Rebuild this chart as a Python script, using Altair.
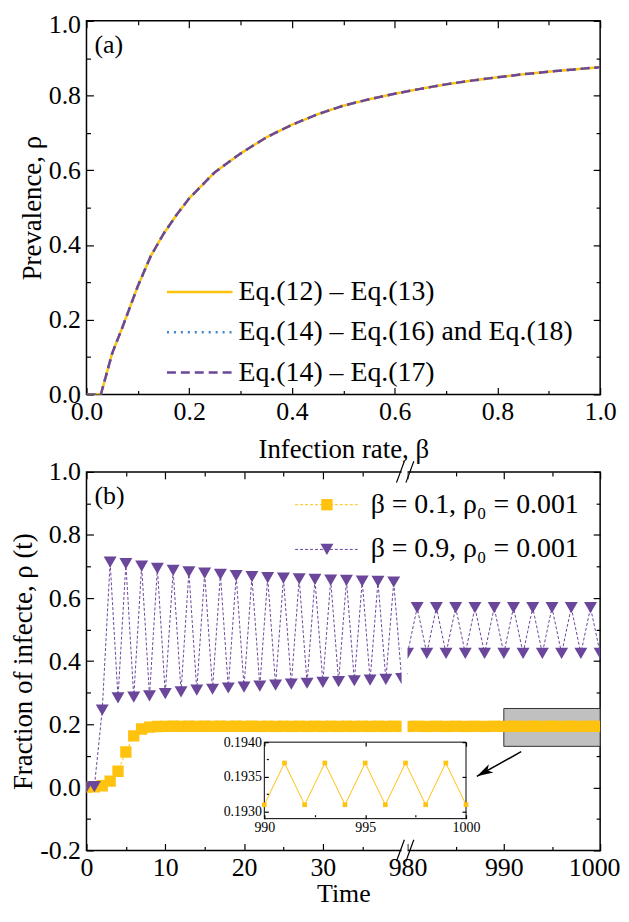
import altair as alt
import pandas as pd

FONT = "Liberation Serif"
YELLOW = "#FFC20E"
BLUE = "#3D85C6"
PURPLE = "#6B479B"

# ---------------- Panel (a) data ----------------
beta = [0.0, 0.02, 0.028, 0.04, 0.05, 0.07, 0.10, 0.125, 0.15, 0.175, 0.20, 0.25,
        0.30, 0.35, 0.40, 0.45, 0.50, 0.55, 0.60, 0.65, 0.70, 0.75, 0.80, 0.85,
        0.90, 0.95, 1.00]
rho = [0.0, 0.0, 0.0, 0.06, 0.11, 0.18, 0.29, 0.37, 0.43, 0.48, 0.525, 0.595,
       0.645, 0.688, 0.722, 0.75, 0.773, 0.79, 0.805, 0.818, 0.83, 0.84, 0.849,
       0.857, 0.864, 0.87, 0.876]
series_a = ["Eq.(12) \u2013 Eq.(13)", "Eq.(14) \u2013 Eq.(16) and Eq.(18)", "Eq.(14) \u2013 Eq.(17)"]
colors_a = [YELLOW, BLUE, PURPLE]
dashes_a = [[1, 0], [2, 5], [9, 5]]
a_major = [0.0, 0.2, 0.4, 0.6, 0.8, 1.0]
a_minor = [0.1, 0.3, 0.5, 0.7, 0.9]

# ---------------- Panel (b) data ----------------
time_left = list(range(0, 41))
rho_b01_left = [0.001, 0.002, 0.005, 0.020, 0.051, 0.112, 0.163, 0.185, 0.191, 0.193,
                0.1931, 0.1937, 0.1931, 0.1937, 0.1931, 0.1937, 0.1931, 0.1937, 0.1931, 0.1937,
                0.1931, 0.1937, 0.1931, 0.1937, 0.1931, 0.1937, 0.1931, 0.1937, 0.1931, 0.1937,
                0.1931, 0.1937, 0.1931, 0.1937, 0.1931, 0.1937, 0.1931, 0.1937, 0.1931, 0.1937,
                0.1931]
rho_b09_left = [0.001, 0.002, 0.245, 0.714, 0.284, 0.709, 0.286, 0.701, 0.290, 0.694,
                0.297, 0.688, 0.303, 0.683, 0.308, 0.679, 0.311, 0.675, 0.315, 0.671,
                0.318, 0.668, 0.321, 0.665, 0.324, 0.663, 0.327, 0.661, 0.330, 0.659,
                0.333, 0.657, 0.335, 0.656, 0.338, 0.654, 0.340, 0.653, 0.342, 0.651,
                0.345]
time_right = list(range(980, 1001))
rho_b01_right = [0.1931, 0.1937, 0.1931, 0.1937, 0.1931, 0.1937, 0.1931, 0.1937, 0.1931, 0.1937,
                 0.1931, 0.1937, 0.1931, 0.1937, 0.1931, 0.1937, 0.1931, 0.1937, 0.1931, 0.1937,
                 0.1931]
rho_b09_right = [0.425, 0.570, 0.425, 0.570, 0.425, 0.570, 0.425, 0.570, 0.425, 0.570,
                 0.425, 0.570, 0.425, 0.570, 0.425, 0.570, 0.425, 0.570, 0.425, 0.570,
                 0.425]
series_b = ["\u03b2 = 0.1, \u03c1\u2080 = 0.001", "\u03b2 = 0.9, \u03c1\u2080 = 0.001"]
b_x_major_left = [0, 10, 20, 30]
b_x_major_right = [980, 990, 1000]
b_x_minor_left = [5, 15, 25, 35]
b_x_minor_right = [985, 995]
b_y_major = [-0.2, 0.0, 0.2, 0.4, 0.6, 0.8, 1.0]
b_y_minor = [-0.1, 0.1, 0.3, 0.5, 0.7, 0.9]
zoom_box_time = [990, 1000]
zoom_box_rho = [0.13, 0.25]
arrow_time = [991.8, 987.2]
arrow_rho = [0.113, 0.035]

# inset
inset_time = time_right[10:]
inset_rho = rho_b01_right[10:]
inset_x_major = [990, 995, 1000]
inset_x_minor = [992.5, 997.5]
inset_y_major = [0.1930, 0.1935, 0.1940]
inset_y_minor = [0.19325, 0.19375]

# ---------------- geometry ----------------
W = 517
HA = 376
HB = 381
MAJ = 7
MIN = 4
TICKFS = 26
TITLEFS = 27

# broken time axis
T0, T1 = 40, 980
GAP = 0.75
K = 1.2225


def to_u(t):
    return t if t <= T0 else T0 + GAP + (t - T1) * K


U_MAX = to_u(1000)
U_EXPR = f"datum.t <= {T0} ? datum.t : {T0 + GAP} + (datum.t - {T1}) * {K}"
U2_EXPR = f"datum.t2 <= {T0} ? datum.t2 : {T0 + GAP} + (datum.t2 - {T1}) * {K}"


def axis(orient, values, size, extra=0, **kw):
    base = dict(orient=orient, values=values, tickSize=size, offset=-size - extra,
                domain=False, grid=False, ticks=True, labelFlush=False,
                labelOverlap=False, tickColor="black", tickWidth=1.2,
                labelFont=FONT, labelColor="black", titleFont=FONT,
                titleColor="black", titleFontWeight="normal")
    base.update(kw)
    return alt.Axis(**base)


def noaxis(orient, values, size, extra=0, zindex=0):
    return axis(orient, values, size, extra, labels=False, zindex=zindex)


# ================= Panel (a) =================
rows = []
for s in series_a:
    for b_, r_ in zip(beta, rho):
        rows.append({"beta": b_, "rho": r_, "series": s})
df_a = pd.DataFrame(rows)

xa = alt.Scale(domain=[0, 1], nice=False, zero=False)
ya = alt.Scale(domain=[0, 1], nice=False, zero=False)

leg_a = alt.Legend(title=None, orient="none", legendX=100, legendY=259,
                   symbolType="M-3,0H3", symbolSize=484, symbolStrokeWidth=2.5,
                   labelFont=FONT, labelFontSize=28, labelColor="black",
                   labelOffset=25, rowPadding=12.5, padding=0, labelLimit=500)

a_lines = alt.Chart(df_a).mark_line(strokeWidth=2.5, clip=True).encode(
    x=alt.X("beta:Q", scale=xa,
            axis=axis("bottom", a_major, MAJ, format=".1f", labelPadding=4,
                      labelFontSize=TICKFS, title="Infection rate, \u03b2",
                      titleFontSize=TITLEFS, titlePadding=12)),
    y=alt.Y("rho:Q", scale=ya,
            axis=axis("left", a_major, MAJ, format=".1f", labelPadding=6,
                      labelFontSize=TICKFS,
                      labelOffset={"condition": {"test": "datum.value > 0.99", "value": 4},
                                   "value": 0},
                      title="Prevalence, \u03c1",
                      titleFontSize=TITLEFS, titlePadding=2)),
    color=alt.Color("series:N", scale=alt.Scale(domain=series_a, range=colors_a), legend=leg_a),
    strokeDash=alt.StrokeDash("series:N", scale=alt.Scale(domain=series_a, range=dashes_a),
                              legend=leg_a),
    order=alt.Order("beta:Q"),
)

a_ghost1 = alt.Chart(df_a).mark_point(opacity=0).encode(
    x=alt.X("beta:Q", scale=xa, axis=noaxis("bottom", a_minor, MIN), title=None),
    y=alt.Y("rho:Q", scale=ya, axis=noaxis("left", a_minor, MIN), title=None),
)
a_ghost2 = alt.Chart(df_a).mark_point(opacity=0).encode(
    x=alt.X("beta:Q", scale=xa, axis=noaxis("top", a_major, MAJ), title=None),
    y=alt.Y("rho:Q", scale=ya, axis=noaxis("right", a_major, MAJ), title=None),
)
a_ghost3 = alt.Chart(df_a).mark_point(opacity=0).encode(
    x=alt.X("beta:Q", scale=xa, axis=noaxis("top", a_minor, MIN), title=None),
    y=alt.Y("rho:Q", scale=ya, axis=noaxis("right", a_minor, MIN), title=None),
)
a_label = alt.Chart(pd.DataFrame({"lab": ["(a)"]})).mark_text(
    font=FONT, fontSize=26, align="left", baseline="middle", color="black"
).encode(x=alt.value(8), y=alt.value(24), text="lab:N")

panel_a = alt.layer(a_ghost1, a_ghost2, a_ghost3, a_lines, a_label).resolve_axis(
    x="independent", y="independent"
).properties(width=W, height=HA)

# ================= Panel (b) =================
df_y = pd.DataFrame({"t": time_left + time_right, "rho": rho_b01_left + rho_b01_right,
                     "seg": ["L"] * len(time_left) + ["R"] * len(time_right)})
df_p = pd.DataFrame({"t": time_left + time_right, "rho": rho_b09_left + rho_b09_right,
                     "seg": ["L"] * len(time_left) + ["R"] * len(time_right)})

xb = alt.Scale(domain=[0, U_MAX], nice=False, zero=False)
yb = alt.Scale(domain=[-0.2, 1.0], nice=False, zero=False)

bx_major = [to_u(v) for v in b_x_major_left + b_x_major_right]
bx_minor = [to_u(v) for v in b_x_minor_left + b_x_minor_right]
X_LABEL = (f"datum.value <= {T0 + 0.1} ? format(datum.value, 'd') : "
           f"format({T1} + (datum.value - {T0 + GAP}) / {K}, '.0f')")
Y_LABEL = "replace(format(datum.value, '.1f'), '\u2212', '-')"

# zoom box
df_box = pd.DataFrame({"t": [zoom_box_time[0]], "t2": [zoom_box_time[1]],
                       "rho": [zoom_box_rho[0]], "rho2": [zoom_box_rho[1]]})
b_box = alt.Chart(df_box).transform_calculate(u=U_EXPR, u2=U2_EXPR).mark_rect(
    fill="#C0C0C0", stroke="#333333", strokeWidth=1).encode(
    x=alt.X("u:Q", scale=xb, axis=None), x2="u2:Q",
    y=alt.Y("rho:Q", scale=yb, axis=None), y2="rho2:Q")

b_yline = alt.Chart(df_y).transform_calculate(u=U_EXPR).mark_line(
    color=YELLOW, strokeWidth=1, strokeDash=[3, 2], clip=True).encode(
    x=alt.X("u:Q", scale=xb,
            axis=axis("bottom", bx_major, MAJ, labelExpr=X_LABEL, labelPadding=4,
                      labelFontSize=TICKFS,
                      labelOffset={"condition": {"test": f"datum.value > {U_MAX - 1}",
                                                 "value": -6}, "value": 0},
                      title="Time", titleFontSize=26, titlePadding=0)),
    y=alt.Y("rho:Q", scale=yb,
            axis=axis("left", b_y_major, MAJ, labelExpr=Y_LABEL, labelPadding=6,
                      labelFontSize=TICKFS,
                      title="Fraction of infecte, \u03c1 (t)", titleFontSize=TITLEFS,
                      titlePadding=2)),
    detail="seg:N", order="t:Q")

b_ypts = alt.Chart(df_y).transform_calculate(u=U_EXPR).mark_point(
    shape="square", filled=True, size=130, color=YELLOW, opacity=1, clip=True).encode(
    x=alt.X("u:Q", scale=xb, axis=noaxis("bottom", bx_minor, MIN), title=None),
    y=alt.Y("rho:Q", scale=yb, axis=noaxis("left", b_y_minor, MIN), title=None))

b_pline = alt.Chart(df_p).transform_calculate(u=U_EXPR).mark_line(
    color=PURPLE, strokeWidth=1, strokeDash=[3, 2], clip=True).encode(
    x=alt.X("u:Q", scale=xb, axis=noaxis("top", bx_major, MAJ), title=None),
    y=alt.Y("rho:Q", scale=yb, axis=noaxis("right", b_y_major, MAJ), title=None),
    detail="seg:N", order="t:Q")

b_ppts = alt.Chart(df_p).transform_calculate(u=U_EXPR).mark_point(
    shape="triangle-down", filled=True, size=170, color=PURPLE, opacity=1, clip=True).encode(
    x=alt.X("u:Q", scale=xb, axis=noaxis("top", bx_minor, MIN), title=None),
    y=alt.Y("rho:Q", scale=yb, axis=noaxis("right", b_y_minor, MIN), title=None))

# axis break: white mask and "//" marks
df_mask = pd.DataFrame({"u": [float(T0)], "u2": [T0 + GAP], "rho": [-0.205], "rho2": [1.005]})
b_mask = alt.Chart(df_mask).mark_rect(fill="white").encode(
    x=alt.X("u:Q", scale=xb, axis=None), x2="u2:Q",
    y=alt.Y("rho:Q", scale=yb, axis=None), y2="rho2:Q")

brk = []
for yc in (-0.2, 1.0):
    for uc in (T0 - 0.15, T0 + GAP + 0.3):
        brk.append({"u": uc - 0.5, "u2": uc + 0.5, "rho": yc - 0.034, "rho2": yc + 0.034})
b_break = alt.Chart(pd.DataFrame(brk)).mark_rule(color="black", strokeWidth=1.2).encode(
    x=alt.X("u:Q", scale=xb, axis=None), x2="u2:Q",
    y=alt.Y("rho:Q", scale=yb, axis=None), y2="rho2:Q")

# arrow
df_arrow = pd.DataFrame({"t": [arrow_time[0]], "t2": [arrow_time[1]],
                         "rho": [arrow_rho[0]], "rho2": [arrow_rho[1]]})
b_arrow = alt.Chart(df_arrow).transform_calculate(u=U_EXPR, u2=U2_EXPR).mark_rule(
    color="black", strokeWidth=1.5).encode(
    x=alt.X("u:Q", scale=xb, axis=None), x2="u2:Q",
    y=alt.Y("rho:Q", scale=yb, axis=None), y2="rho2:Q")
b_head = alt.Chart(df_arrow).transform_calculate(u=U2_EXPR).mark_point(
    shape="M0,0L0.55,1.9L0,1.4L-0.55,1.9Z", filled=True, color="black", size=300,
    angle=241, opacity=1).encode(
    x=alt.X("u:Q", scale=xb, axis=None),
    y=alt.Y("rho2:Q", scale=yb, axis=None))


# legend (b)
def leg_row(label, color, shape, size, ypix):
    d = pd.DataFrame({"lab": [label]})
    ln = alt.Chart(d).mark_rule(color=color, strokeWidth=1, strokeDash=[3, 2]).encode(
        x=alt.value(210), x2=alt.value(275), y=alt.value(ypix))
    pt = alt.Chart(d).mark_point(shape=shape, filled=True, size=size, color=color,
                                 opacity=1).encode(x=alt.value(242), y=alt.value(ypix))
    tx = alt.Chart(d).mark_text(font=FONT, fontSize=28, align="left", baseline="middle",
                                color="black").encode(
        x=alt.value(286), y=alt.value(ypix), text="lab:N")
    return [ln, pt, tx]


b_leg = leg_row(series_b[0], YELLOW, "square", 130, 33) + \
    leg_row(series_b[1], PURPLE, "triangle-down", 170, 78)

b_label = alt.Chart(pd.DataFrame({"lab": ["(b)"]})).mark_text(
    font=FONT, fontSize=26, align="left", baseline="middle", color="black"
).encode(x=alt.value(8), y=alt.value(24), text="lab:N")

# inset
ix = alt.Scale(domain=[990, 1000], range=[179, 382], nice=False, zero=False)
iy = alt.Scale(domain=[0.1929, 0.1940], range=[349, 272], nice=False, zero=False)
df_frame = pd.DataFrame({"t": [inset_x_major[0]], "t2": [inset_x_major[-1]],
                         "rho": [0.1929], "rho2": [inset_y_major[-1]]})
df_inset = pd.DataFrame({"t": inset_time, "rho": inset_rho})
IB, IL, IT, IR = HB - 349, 179, 272, W - 382
i_frame = alt.Chart(df_frame).mark_rect(fill="white", stroke="black", strokeWidth=1).encode(
    x=alt.X("t:Q", scale=ix,
            axis=axis("bottom", inset_x_major, 4, IB, format="d", labelPadding=2,
                      labelFontSize=14, zindex=1, title=None)),
    x2="t2:Q",
    y=alt.Y("rho:Q", scale=iy,
            axis=axis("left", inset_y_major, 4, IL, format=".4f", labelPadding=3,
                      labelFontSize=14, zindex=1, title=None)),
    y2="rho2:Q")
i_line = alt.Chart(df_inset).mark_line(color=YELLOW, strokeWidth=1).encode(
    x=alt.X("t:Q", scale=ix, axis=noaxis("bottom", inset_x_minor, 2, IB + 2, zindex=1), title=None),
    y=alt.Y("rho:Q", scale=iy, axis=noaxis("left", inset_y_minor, 2, IL + 2, zindex=1), title=None))
i_pts = alt.Chart(df_inset).mark_point(shape="square", filled=True, size=22, color=YELLOW,
                                        opacity=1).encode(
    x=alt.X("t:Q", scale=ix, axis=noaxis("top", inset_x_major, 4, IT, zindex=1), title=None),
    y=alt.Y("rho:Q", scale=iy, axis=noaxis("right", inset_y_major, 4, IR, zindex=1), title=None))

panel_b = alt.layer(
    b_box, b_yline, b_ypts, b_pline, b_ppts, b_mask, b_break, b_arrow, b_head,
    *b_leg, b_label, i_frame, i_line, i_pts
).resolve_scale(x="independent", y="independent").resolve_axis(
    x="independent", y="independent"
).properties(width=W, height=HB)

chart = alt.vconcat(panel_a, panel_b, spacing=78, bounds="flush").properties(
    padding={"left": 1, "top": 0, "right": 0, "bottom": 0}
).configure_view(stroke="black", strokeWidth=1.5)

chart.save("out.html", embed_options={"renderer": "svg", "actions": False})
